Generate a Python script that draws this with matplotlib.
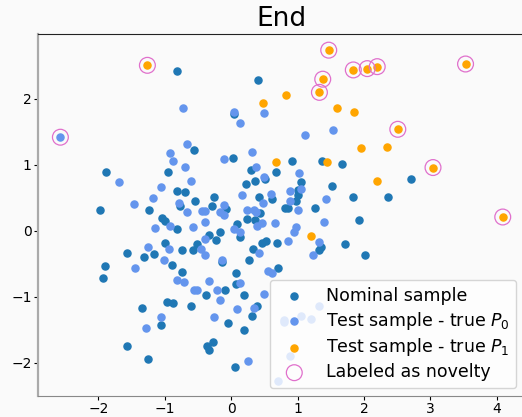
import numpy as np
import matplotlib.pyplot as plt

# nominal sample
nominal_x = [-0.81, 0.40, 0.04, 2.71, 2.36, 1.83, 1.92, 2.01, 1.71, 1.67, 1.37, 1.52, 1.27, 1.35, 1.33,
             0.91, 0.68, 1.06, 1.00, 1.00, 0.98, 0.81, 0.86, 0.69, 0.62, 0.42, 0.43, 0.36, 0.24, 0.22,
             0.36, 0.51, 0.30, 0.03, -0.56, -0.95, -1.89, -1.97, -1.23, -0.82, -0.69, -0.77, -0.54, -0.26,
             -0.28, -0.07, -1.04, -0.99, -0.81, 0.09, 0.13, -0.17, -0.33, -0.23, -0.99, -1.57, -1.31, -1.16,
             -0.74, -0.52, -0.58, 0.27, 0.33, 0.47, 0.52, -0.13, -0.89, -1.90, -1.93, -0.74, 0.07, -0.38,
             -0.09, 0.07, 0.19, 0.39, 0.31, 0.19, 0.71, -0.96, -0.88, -0.60, -1.34, -1.05, -0.04, -1.56,
             -1.25, -0.37, -0.33, -0.27, 0.06]
nominal_y = [2.43, 2.28, 1.77, 0.78, 0.51, 0.51, 0.16, -0.36, -0.20, 1.01, 1.06, 0.68, 0.34, -0.24, -0.29,
             1.06, 0.89, 0.74, 0.62, 0.55, 0.45, 0.35, 0.35, -0.19, 0.48, 0.51, 0.27, 0.16, 0.18, 0.71,
             0.76, 0.79, 0.93, 1.11, 1.22, 0.90, 0.89, 0.31, 0.31, 0.61, 0.59, 0.37, 0.45, 0.51,
             0.37, 0.33, 0.20, 0.15, 0.03, 0.10, -0.09, -0.02, -0.07, -0.14, -0.18, -0.33, -0.40, -0.35,
             -0.29, -0.20, -0.29, -0.44, -0.27, -0.19, -0.16, -0.47, -0.52, -0.53, -0.71, -0.63, -0.64, -0.98,
             -0.90, -0.81, -0.97, -1.14, -1.29, -1.50, -0.56, -1.08, -1.10, -1.14, -1.17, -1.42, -1.39, -1.74,
             -1.95, -1.75, -1.80, -1.69, -2.07]

# test sample, true P0
p0_x = [-2.57, -0.73, 0.04, 0.49, 0.14, 1.12, 1.53, 1.43, 1.40, 1.32, 1.24, 1.03, 1.05, 0.89, 0.88,
        1.00, 0.97, 0.95, 0.86, 0.66, 0.60, 0.48, 0.38, 0.46, 0.39, 0.24, 0.34, 0.17, 0.50, 0.37,
        0.32, -0.10, -0.66, -0.92, -0.88, -0.69, -0.60, -1.68, -1.46, -1.17, -1.06, -0.78, -0.66, -0.44,
        -0.39, -0.11, -0.10, -0.17, -0.92, -1.15, -0.57, -0.40, 0.04, 0.13, -0.40, -1.25, -0.94, -0.46,
        -0.40, 0.42, -0.13, -1.01, -1.45, -0.82, -0.71, -0.33, -0.56, -0.51, -0.21, -0.16, 0.14, 0.09,
        0.50, 0.34, 0.56, 0.62, -1.06, -1.28, -0.26, 0.25, 0.79, 0.79, 1.06, 1.20, 1.32, 0.89, 0.70]
p0_y = [1.42, 1.87, 1.80, 1.78, 1.64, 1.46, 1.53, 0.48, 0.14, -0.17, -0.37, 0.87, 0.63, 0.60, 0.46,
        0.31, 0.06, -0.01, -0.16, 0.12, 0.56, 0.43, 0.29, 0.12, 0.08, 0.32, 0.31, 0.54, 0.82, 0.97,
        1.19, 1.09, 1.31, 1.18, 1.06, 0.97, 0.76, 0.74, 0.41, 0.50, 0.66, 0.42, 0.29, 0.30,
        0.30, 0.39, 0.24, 0.28, 0.07, 0.05, 0.06, 0.13, 0.03, -0.01, -0.12, -0.24, -0.27, -0.27,
        -0.37, -0.34, -0.44, -0.44, -0.56, -0.74, -0.77, -0.76, -0.89, -0.90, -0.89, -1.05, -0.79, -1.18,
        -0.95, -1.17, -0.61, -0.64, -1.30, -1.48, -1.31, -1.97, -1.35, -1.38, -1.29, -1.34, -1.14, -1.89, -2.27]

# test sample, true P1
p1_x = [-1.26, 1.47, 1.84, 2.05, 2.20, 3.53, 1.38, 1.33, 0.83, 0.48, 1.59, 1.85, 2.51, 1.96, 2.35,
        3.04, 4.09, 2.20, 1.45, 1.20, 0.68]
p1_y = [2.51, 2.74, 2.44, 2.46, 2.49, 2.53, 2.30, 2.10, 2.06, 1.94, 1.86, 1.80, 1.54, 1.25, 1.27,
        0.96, 0.21, 0.75, 1.04, -0.08, 1.05]

# points labeled as novelty
nov_x = [-1.26, 1.47, 1.84, 2.05, 2.20, 3.53, 1.38, 1.33, 2.51, 3.04, 4.09, -2.57]
nov_y = [2.51, 2.74, 2.44, 2.46, 2.49, 2.53, 2.30, 2.10, 1.54, 0.96, 0.21, 1.42]

fig = plt.figure(figsize=(5.22, 4.17), dpi=100, facecolor='#fafafa')
ax = fig.add_axes([38 / 522, 21 / 417, 486 / 522, 362 / 417])
ax.set_facecolor('#fafafa')

ax.scatter(nominal_x, nominal_y, s=26, color='#1f77b4', label='Nominal sample')
ax.scatter(p0_x, p0_y, s=26, color='cornflowerblue', label='Test sample - true $P_0$')
ax.scatter(p1_x, p1_y, s=26, color='orange', label='Test sample - true $P_1$')
ax.scatter(nov_x, nov_y, s=130, facecolors='none', edgecolors='#e070cc', linewidths=0.9,
           label='Labeled as novelty')

ax.set_xlim(-2.907, 4.41)
ax.set_ylim(-2.504, 2.985)
ax.set_xticks([-2, -1, 0, 1, 2, 3, 4])
ax.set_yticks([-2, -1, 0, 1, 2])
ax.tick_params(labelsize=10, length=3, pad=1.5)
ax.set_title('End', fontsize=19)

ax.spines['right'].set_visible(False)
ax.spines['top'].set_color('#222222')
ax.spines['left'].set_color('#aaaaaa')
ax.spines['left'].set_linewidth(1.6)
ax.spines['bottom'].set_color('#888888')

ax.legend(loc='lower right', fontsize=12.5, labelspacing=0.28, borderaxespad=0.45)

plt.savefig('out.png', dpi=100, facecolor=fig.get_facecolor())
